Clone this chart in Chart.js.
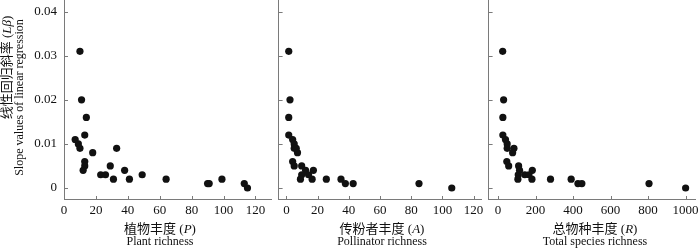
<!DOCTYPE html>
<html>
<head>
<meta charset="utf-8">
<script src="https://cdn.jsdelivr.net/npm/chart.js@4.4.0/dist/chart.umd.min.js"></script>
<style>
  body { margin: 0; background: #fff; }
  #wrap { position: relative; width: 700px; height: 248px; overflow: hidden; font-family: "Liberation Serif", "Noto Sans CJK SC", serif; color: #111; }
  canvas { position: absolute; top: -3px; }
  .xt { position: absolute; width: 200px; text-align: center; white-space: nowrap; }
  .zh { font-size: 13px; line-height: 14px; }
  .zh span { font-family: "Noto Sans CJK SC", sans-serif; }
  .en { font-size: 12px; line-height: 13px; }
  .yt { position: absolute; width: 220px; text-align: center; white-space: nowrap; transform: rotate(-90deg); transform-origin: 50% 50%; }
</style>
</head>
<body>
<div id="wrap">
  <canvas id="c1" width="275" height="251" style="left:0;width:275px;height:251px"></canvas>
  <canvas id="c2" width="210" height="251" style="left:275px;width:210px;height:251px"></canvas>
  <canvas id="c3" width="215" height="251" style="left:485px;width:215px;height:251px"></canvas>

  <div class="yt zh" style="left:-104px;top:60px"><span>线性回归斜率</span> (<i>Lβ</i>)</div>
  <div class="yt en" style="left:-91px;top:91px">Slope values of linear regression</div>

  <div class="xt zh" style="left:60px;top:221px"><span>植物丰度</span> (<i>P</i>)</div>
  <div class="xt en" style="left:60px;top:235px">Plant richness</div>
  <div class="xt zh" style="left:282px;top:221px"><span>传粉者丰度</span> (<i>A</i>)</div>
  <div class="xt en" style="left:282px;top:235px">Pollinator richness</div>
  <div class="xt zh" style="left:495px;top:221px"><span>总物种丰度</span> (<i>R</i>)</div>
  <div class="xt en" style="left:495px;top:235px">Total species richness</div>
</div>
<script>
// slope values
const plantX = [10, 11, 14, 13, 7, 9, 10, 33, 18, 13, 13, 29, 12, 38, 23, 26, 49, 31, 41, 64, 99, 90, 91, 113, 115];
const plantY = [0.031, 0.020, 0.016, 0.012, 0.011, 0.010, 0.009, 0.009, 0.008, 0.006, 0.005, 0.005, 0.004, 0.004,
  0.003, 0.003, 0.003, 0.002, 0.002, 0.002, 0.002, 0.001, 0.001, 0.001, 0];

const pollX = [1.5, 2.3, 1.5, 1.5, 4, 5, 5, 6.3, 7.1, 4, 5, 9.8, 12.3, 17.3, 9.8, 14.2, 9, 16.5, 25.6, 35, 37.8, 42.8, 85, 106];
const pollY = [0.031, 0.020, 0.016, 0.012, 0.011, 0.010, 0.009, 0.009, 0.008, 0.006, 0.005, 0.005, 0.004, 0.004,
  0.003, 0.003, 0.002, 0.002, 0.002, 0.002, 0.001, 0.001, 0.001, 0];

const totalX = [25, 30, 26, 26, 40, 49, 49, 85, 78, 47, 57, 110, 115, 183, 108, 143, 165, 106, 181, 280, 390, 426, 447, 805, 1000];
const totalY = [0.031, 0.020, 0.016, 0.012, 0.011, 0.010, 0.009, 0.009, 0.008, 0.006, 0.005, 0.005, 0.004, 0.004,
  0.003, 0.003, 0.003, 0.002, 0.002, 0.002, 0.002, 0.001, 0.001, 0.001, 0];

const yTicks = [0, 0.01, 0.02, 0.03, 0.04];
const smallTicks = [0, 20, 40, 60, 80, 100, 120];
const bigTicks = [0, 200, 400, 600, 800, 1000];

const axisColor = "#7a7a7a";
const tickFont = { family: "'Liberation Serif', serif", size: 13 };

// ticks of this figure point inwards, so draw them ourselves
const innerTicks = {
  id: "innerTicks",
  afterDatasetsDraw(chart) {
    const { ctx, chartArea: a, scales } = chart;
    ctx.save();
    ctx.strokeStyle = axisColor;
    ctx.lineWidth = 1;
    ctx.beginPath();
    scales.x.ticks.forEach((t) => {
      const px = Math.round(scales.x.getPixelForValue(t.value)) + 0.5;
      ctx.moveTo(px, a.bottom);
      ctx.lineTo(px, a.bottom - 3);
    });
    scales.y.ticks.forEach((t) => {
      const py = Math.round(scales.y.getPixelForValue(t.value)) + 0.5;
      ctx.moveTo(a.left, py);
      ctx.lineTo(a.left + 4, py);
    });
    ctx.stroke();
    ctx.restore();
  },
};

function noPad(s) {
  s.paddingTop = 0;
  s.paddingBottom = 0;
  s.paddingLeft = 0;
  s.paddingRight = 0;
}

function makeChart(id, xs, ys, xMin, xMax, xTicks, showYLabels, padRight) {
  const pts = xs.map((x, i) => ({ x: x, y: ys[i] }));
  return new Chart(document.getElementById(id), {
    type: "scatter",
    data: {
      datasets: [{
        data: pts,
        backgroundColor: "#111",
        borderColor: "#111",
        pointRadius: 3.6,
        pointHoverRadius: 3.6,
        borderWidth: 0,
      }],
    },
    options: {
      responsive: false,
      animation: false,
      events: [],
      layout: { padding: { left: 0, right: padRight, top: 0, bottom: 0 } },
      plugins: { legend: { display: false }, tooltip: { enabled: false } },
      scales: {
        x: {
          type: "linear",
          min: xMin,
          max: xMax,
          afterBuildTicks: (s) => { s.ticks = xTicks.map((v) => ({ value: v })); },
          afterFit: (s) => { s.height = 49; noPad(s); },
          grid: { drawOnChartArea: false, drawTicks: false },
          border: { display: true, color: axisColor, width: 1 },
          ticks: { color: "#111", font: tickFont, padding: 4, maxRotation: 0, autoSkip: false, callback: (v) => String(v) },
        },
        y: {
          type: "linear",
          min: -0.0025,
          max: 0.0425,
          afterBuildTicks: (s) => { s.ticks = yTicks.map((v) => ({ value: v })); },
          afterFit: (s) => { s.width = showYLabels ? 64 : 0; noPad(s); },
          grid: { drawOnChartArea: false, drawTicks: false },
          border: { display: true, color: axisColor, width: 1 },
          ticks: {
            display: showYLabels,
            color: "#111",
            font: tickFont,
            padding: 7,
            callback: (v) => (v === 0 ? "0" : v.toFixed(2)),
          },
        },
      },
    },
    plugins: [innerTicks],
  });
}

makeChart("c1", plantX, plantY, 0, 130, smallTicks, true, 0);
makeChart("c2", pollX, pollY, -5, 125, smallTicks, false, 0);
makeChart("c3", totalX, totalY, -50, 1050, bigTicks, false, 5);
</script>
</body>
</html>
